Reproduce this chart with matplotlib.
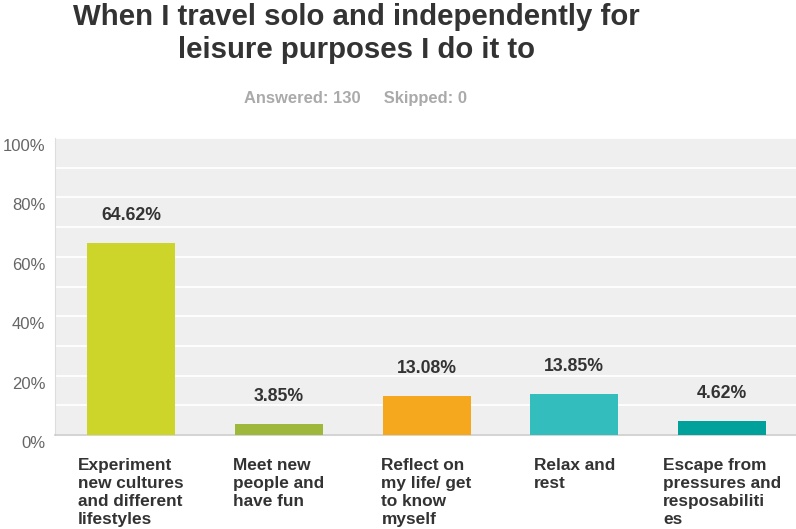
import matplotlib.pyplot as plt
import matplotlib.transforms as mtransforms
import numpy as np

plt.rcParams['font.family'] = ['Liberation Sans', 'DejaVu Sans']

categories = ["Experiment\nnew cultures\nand different\nlifestyles",
              "Meet new\npeople and\nhave fun",
              "Reflect on\nmy life/ get\nto know\nmyself",
              "Relax and\nrest",
              "Escape from\npressures and\nresposabiliti\nes"]
values = [64.62, 3.85, 13.08, 13.85, 4.62]
colors = ['#CDD52A', '#9DB83A', '#F5A81D', '#33BDBD', '#00A19A']
yticks = [0, 20, 40, 60, 80, 100]

fig = plt.figure(figsize=(7.96, 5.29), dpi=100)
ax = fig.add_axes([55 / 796, 94 / 529, 741 / 796, 297 / 529])
ax.set_facecolor('#EFEFEF')

x = np.arange(len(values))
bw = 0.595
ax.bar(x, values, width=bw, color=colors, zorder=3)

ax.set_xlim(-0.514, 4.5)
ax.set_ylim(0, 100)
ax.set_yticks(yticks)
ax.set_yticklabels([f"{t}%" for t in yticks], color='#666666', fontsize=12)
ax.set_yticks(np.arange(10, 100, 20), minor=True)
ax.grid(axis='y', which='both', color='white', linewidth=1.3, zorder=1)
ax.tick_params(axis='y', which='both', length=0, pad=7)
ax.set_xticks([])

# labels sit a little below their gridline, as in the original
offset = mtransforms.ScaledTranslation(0, -7 / 100, fig.dpi_scale_trans)
for lbl in ax.get_yticklabels():
    lbl.set_transform(lbl.get_transform() + offset)

for s in ['top', 'right']:
    ax.spines[s].set_visible(False)
ax.spines['left'].set_color('#DDDDDD')
ax.spines['bottom'].set_color('#CCCCCC')
ax.spines['bottom'].set_linewidth(1.2)

# value labels above bars
for xi, v in zip(x, values):
    ax.annotate(f"{v:.2f}%", (xi, v), xytext=(0, 19), textcoords='offset pixels',
                ha='center', va='bottom', fontsize=12.7, fontweight='bold', color='#333333')

# category labels: block centred under bar, lines left aligned
trans = mtransforms.blended_transform_factory(ax.transData, ax.transAxes)
for xi, lab in zip(x, categories):
    ax.annotate(lab, (xi, 0), xycoords=trans, xytext=(0, -23),
                textcoords='offset pixels', ha='center', va='top', multialignment='left',
                fontsize=12.4, fontweight='bold', color='#333333', linespacing=1.25)

fig.text(356 / 796, 1 - 33.5 / 529, "When I travel solo and independently for\nleisure purposes I do it to",
         ha='center', va='center', fontsize=21.2, fontweight='bold', color='#333333',
         linespacing=1.25)
fig.text(356 / 796, 1 - 98 / 529, "Answered: 130     Skipped: 0", ha='center', va='center',
         fontsize=11.9, fontweight='bold', color='#AAAAAA')

fig.savefig('out.png', dpi=100)
